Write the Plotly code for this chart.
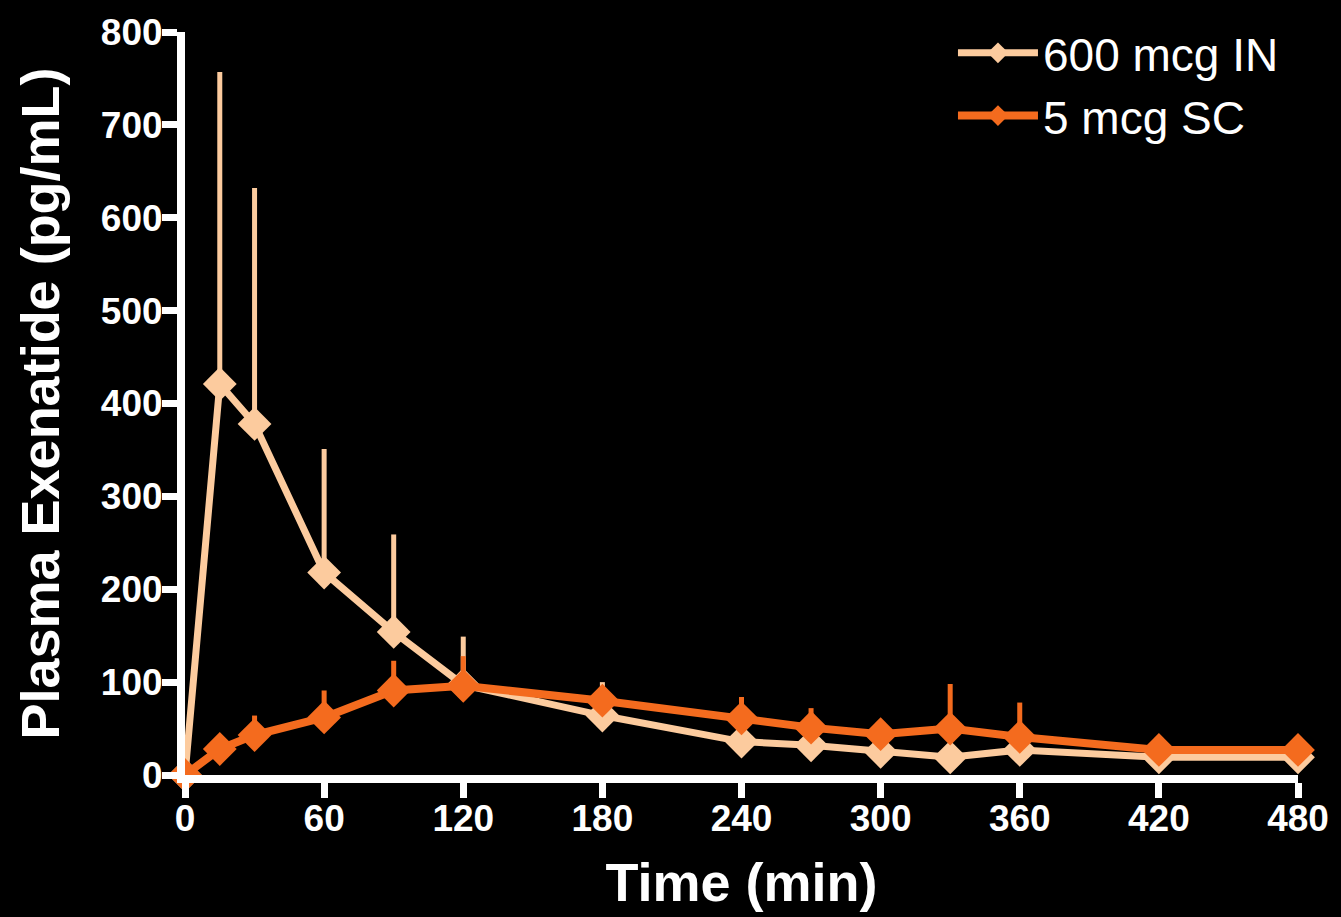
import plotly.graph_objects as go

time_min = [0, 15, 30, 60, 90, 120, 180, 240, 270, 300, 330, 360, 420, 480]

in_mean = [0, 421, 378, 218, 154, 97, 64, 36, 32, 25, 19, 27, 19, 19]
in_err_up = [0, 336, 254, 133, 105, 52, 36, 0, 0, 0, 0, 0, 0, 0]

sc_mean = [0, 28, 43, 62, 91, 96, 80, 61, 51, 44, 50, 41, 27, 27]
sc_err_up = [0, 0, 21, 29, 32, 32, 0, 23, 21, 0, 48, 37, 0, 0]

x_ticks = [0, 60, 120, 180, 240, 300, 360, 420, 480]
y_ticks = [0, 100, 200, 300, 400, 500, 600, 700, 800]

IN_COLOR = "#FCCB9E"
SC_COLOR = "#F46B1E"
FONT = "Liberation Sans, Arial, sans-serif"

fig = go.Figure()
fig.add_trace(go.Scatter(
    x=time_min, y=in_mean, name="600 mcg IN", mode="lines+markers",
    line=dict(color=IN_COLOR, width=7),
    marker=dict(symbol="diamond", size=26, color=IN_COLOR),
    error_y=dict(type="data", symmetric=False, array=in_err_up,
                 arrayminus=[0] * len(in_err_up), color=IN_COLOR,
                 thickness=5, width=0),
    cliponaxis=False,
))
fig.add_trace(go.Scatter(
    x=time_min, y=sc_mean, name="5 mcg SC", mode="lines+markers",
    line=dict(color=SC_COLOR, width=8),
    marker=dict(symbol="diamond", size=26, color=SC_COLOR),
    error_y=dict(type="data", symmetric=False, array=sc_err_up,
                 arrayminus=[0] * len(sc_err_up), color=SC_COLOR,
                 thickness=5, width=0),
    cliponaxis=False,
))

tick_font = dict(family=FONT, size=37, color="white")
fig.update_layout(
    width=1341, height=917,
    paper_bgcolor="black", plot_bgcolor="black",
    margin=dict(l=185, r=36, t=27, b=142, pad=0),
    font=dict(family=FONT, color="white"),
    showlegend=True,
    legend=dict(x=0.69, y=1.021, xanchor="left", yanchor="top",
                font=dict(family=FONT, size=46, color="white"), bgcolor="rgba(0,0,0,0)",
                itemwidth=80, tracegroupgap=0),
    xaxis=dict(
        range=[0, 480], tickvals=x_ticks, ticktext=[f"<b>{v}</b>" for v in x_ticks],
        showgrid=False, zeroline=False, showline=True, linecolor="white", linewidth=8,
        ticks="outside", ticklen=15, tickwidth=7, tickcolor="white",
        tickfont=tick_font, ticklabelstandoff=-11,
        title=dict(text="<b>Time (min)</b>", font=dict(family=FONT, size=54, color="white"), standoff=28),
    ),
    yaxis=dict(
        range=[0, 800], tickvals=y_ticks, ticktext=[f"<b>{v}</b>" for v in y_ticks],
        showgrid=False, zeroline=False, showline=True, linecolor="white", linewidth=8,
        ticks="outside", ticklen=15, tickwidth=7, tickcolor="white",
        tickfont=tick_font, ticklabelstandoff=-8,
        title=dict(text="<b>Plasma Exenatide (pg/mL)</b>", font=dict(family=FONT, size=54, color="white"), standoff=27),
    ),
)

fig.write_html(
    "out.html",
    config={"displayModeBar": False},
    post_script="document.body.style.margin='0';document.body.style.backgroundColor='black';",
)
